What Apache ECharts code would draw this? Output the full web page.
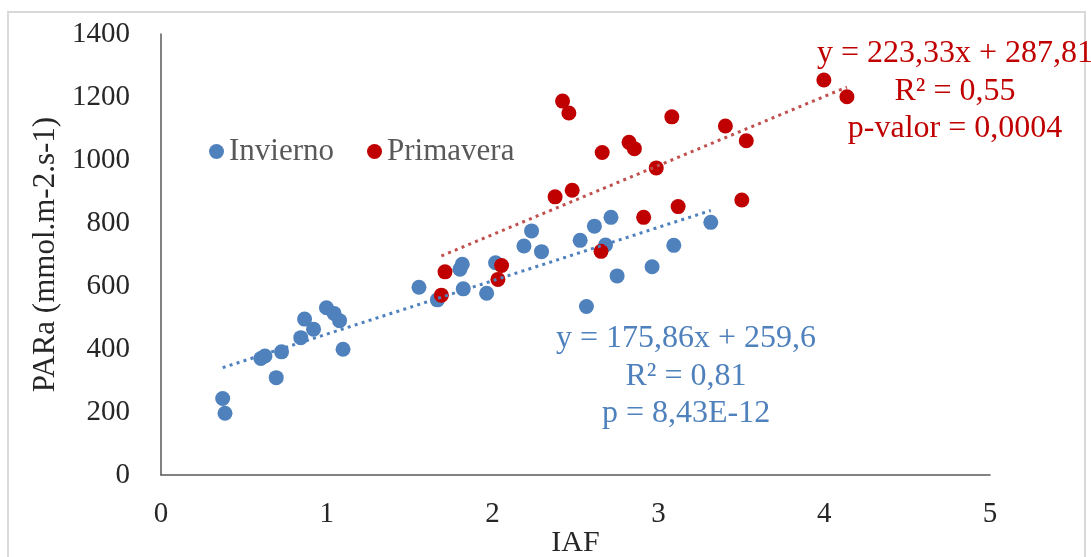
<!DOCTYPE html>
<html>
<head>
<meta charset="utf-8">
<script src="https://cdn.jsdelivr.net/npm/echarts@6/dist/echarts.min.js"></script>
<style>
  html, body { margin: 0; padding: 0; background: #fff; }
  #main { width: 1091px; height: 557px; }
</style>
</head>
<body>
<div id="main"></div>
<script>
// Invierno (winter)
let invX = [0.372, 0.386, 0.602, 0.627, 0.695, 0.727, 0.843, 0.866, 0.920, 0.998, 1.044, 1.077, 1.098,
            1.556, 1.667, 1.803, 1.817, 1.823, 1.964, 2.018, 2.189, 2.235, 2.295, 2.528, 2.566, 2.614,
            2.681, 2.714, 2.751, 2.962, 3.093, 3.316]
let invY = [243, 196, 370, 378, 309, 391, 436, 495, 463, 531, 513, 490, 399,
            596, 556, 653, 669, 591, 577, 674, 727, 775, 709, 745, 535, 790,
            730, 818, 632, 661, 729, 802]
// Primavera (spring)
let priX = [1.691, 1.713, 2.032, 2.054, 2.377, 2.480, 2.422, 2.460, 2.654, 2.661, 2.823, 2.855, 2.911,
            2.987, 3.081, 3.119, 3.404, 3.503, 3.530, 3.998, 4.137]
let priY = [571, 645, 621, 665, 883, 904, 1187, 1149, 710, 1024, 1056, 1036, 818,
            975, 1137, 852, 1108, 873, 1061, 1254, 1201]

let xTicks = [0, 1, 2, 3, 4, 5]
let yTicks = [0, 200, 400, 600, 800, 1000, 1200, 1400]

let blueEq = ["y = 175,86x + 259,6", "R² = 0,81", "p = 8,43E-12"]
let redEq = ["y = 223,33x + 287,81", "R² = 0,55", "p-valor = 0,0004"]

const BLUE = "#4F81BD"
const RED = "#C00000"
const FONT = "'Liberation Serif', 'DejaVu Serif', serif"

function zip(xs, ys) {
    return xs.map((x, i) => [x, ys[i]])
}

// least squares fit, drawn from min x to max x like excel does
function trend(xs, ys) {
    let n = xs.length
    let mx = xs.reduce((a, b) => a + b, 0) / n
    let my = ys.reduce((a, b) => a + b, 0) / n
    let sxy = 0, sxx = 0
    for (let i = 0; i < n; i++) {
        sxy += (xs[i] - mx) * (ys[i] - my)
        sxx += (xs[i] - mx) * (xs[i] - mx)
    }
    let b = sxy / sxx
    let a = my - b * mx
    let x0 = Math.min(...xs), x1 = Math.max(...xs)
    return [[x0, a + b * x0], [x1, a + b * x1]]
}

function eqText(lines, cx, y0, color) {
    return lines.map((t, i) => ({
        type: "text",
        x: cx,
        y: y0 + i * 37.5,
        silent: true,
        style: {
            text: t,
            align: "center",
            verticalAlign: "middle",
            fill: color,
            font: "32px " + FONT
        },
        z: 10
    }))
}

var myChart = echarts.init(document.getElementById("main"), null, { renderer: "canvas" })

var option = {
    backgroundColor: "#fff",
    animation: false,
    grid: { left: 161, right: 101, top: 34, bottom: 82, outerBoundsMode: "none", containLabel: false },
    legend: {
        left: 204,
        top: 131,
        itemWidth: 15,
        itemHeight: 15,
        itemGap: 33,
        icon: "circle",
        textStyle: { fontFamily: FONT, fontSize: 31, color: "#595959" },
        data: ["Invierno", "Primavera"]
    },
    xAxis: {
        type: "value",
        min: xTicks[0],
        max: xTicks[xTicks.length - 1],
        interval: 1,
        name: "IAF",
        nameLocation: "middle",
        nameGap: 53,
        nameMoveOverlap: false,
        nameTextStyle: { fontFamily: FONT, fontSize: 30, color: "#262626" },
        axisLine: { show: true, lineStyle: { color: "#595959", width: 1.5 } },
        axisTick: { show: false },
        splitLine: { show: false },
        axisLabel: { fontFamily: FONT, fontSize: 29, color: "#262626", margin: 25 }
    },
    yAxis: {
        type: "value",
        min: yTicks[0],
        max: yTicks[yTicks.length - 1],
        interval: 200,
        name: "PARa (mmol.m-2.s-1)",
        nameLocation: "middle",
        nameGap: 95,
        nameTextStyle: { fontFamily: FONT, fontSize: 31, color: "#262626" },
        axisLine: { show: true, lineStyle: { color: "#595959", width: 1.5 } },
        axisTick: { show: false },
        splitLine: { show: false },
        axisLabel: {
            fontFamily: FONT, fontSize: 29, color: "#262626", margin: 31,
            formatter: v => String(v)
        }
    },
    series: [
        {
            name: "Invierno",
            type: "scatter",
            symbolSize: 15,
            itemStyle: { color: BLUE, opacity: 1 },
            data: zip(invX, invY),
            z: 2
        },
        {
            name: "Primavera",
            type: "scatter",
            symbolSize: 15,
            itemStyle: { color: RED, opacity: 1 },
            data: zip(priX, priY),
            z: 3
        },
        {
            name: "trendInv",
            type: "line",
            showSymbol: false,
            symbol: "none",
            lineStyle: { color: BLUE, width: 3, type: [3, 4.3] },
            data: trend(invX, invY),
            z: 4
        },
        {
            name: "trendPri",
            type: "line",
            showSymbol: false,
            symbol: "none",
            lineStyle: { color: "#C0504D", width: 3, type: [3, 4.3] },
            data: trend(priX, priY),
            z: 4
        }
    ],
    graphic: [
        {
            type: "rect",
            shape: { x: 8, y: 12, width: 1077, height: 560 },
            style: { fill: "none", stroke: "#d9d9d9", lineWidth: 2 },
            silent: true,
            z: 0
        }
    ].concat(
        eqText(redEq, 955, 54, RED),
        eqText(blueEq, 686, 339, BLUE)
    )
}

myChart.setOption(option)
</script>
</body>
</html>
